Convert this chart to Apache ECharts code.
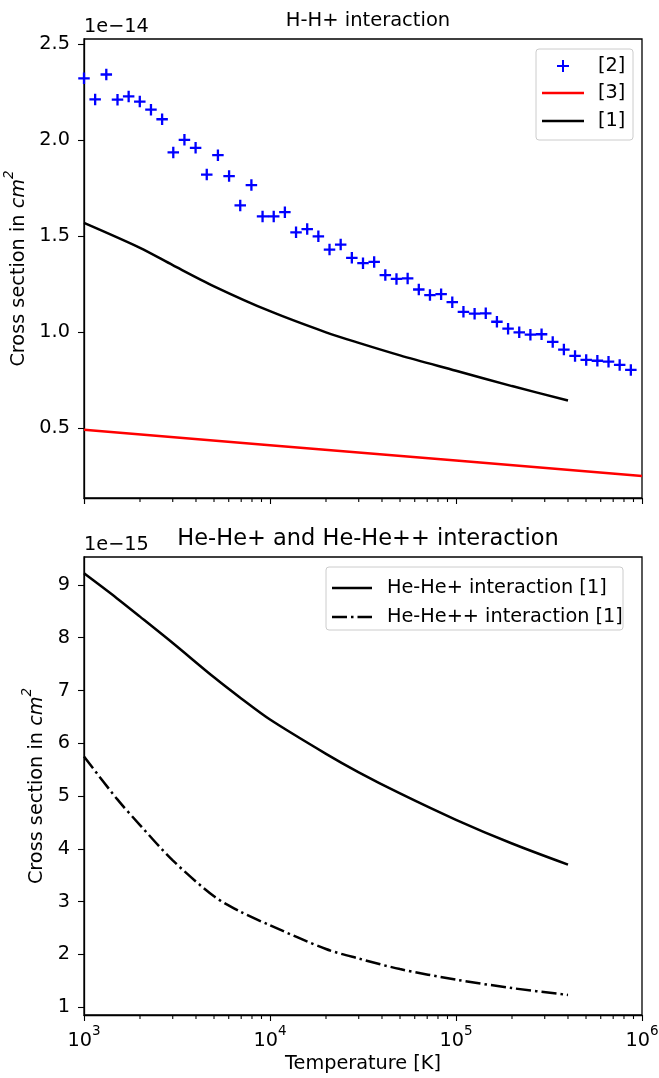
<!DOCTYPE html>
<html>
<head>
<meta charset="utf-8">
<title>Cross sections</title>
<script src="https://cdn.jsdelivr.net/npm/echarts@6/dist/echarts.min.js"></script>
<style>
  html, body { margin: 0; padding: 0; background: #fff; }
  #chart { width: 659px; height: 1078px; }
</style>
</head>
<body>
<div id="chart"></div>
<script>
// ---- H-H+ interaction (values in units of 1e-14 cm^2) ----
const tempRef2 = [1000, 1148, 1318, 1514, 1738, 1995, 2291, 2630, 3020, 3467,
  3981, 4571, 5248, 6026, 6918, 7943, 9120, 10471, 12023, 13804,
  15849, 18197, 20893, 23988, 27542, 31623, 36308, 41687, 47863, 54954,
  63096, 72444, 83176, 95499, 109648, 125893, 144544, 165959, 190546, 218776,
  251189, 288403, 331131, 380189, 436516, 501187, 575440, 660693, 758578, 870964];
const sigmaRef2 = [2.323, 2.213, 2.343, 2.212, 2.229, 2.202, 2.160, 2.110, 1.937, 2.003,
  1.961, 1.822, 1.923, 1.814, 1.661, 1.767, 1.604, 1.604, 1.626, 1.521,
  1.538, 1.500, 1.431, 1.457, 1.388, 1.360, 1.367, 1.298, 1.278, 1.281,
  1.223, 1.194, 1.199, 1.157, 1.107, 1.097, 1.099, 1.055, 1.019, 1.000,
  0.988, 0.990, 0.950, 0.910, 0.877, 0.856, 0.852, 0.847, 0.830, 0.804];

const tempRef3 = [1000, 10000, 100000, 1000000];
const sigmaRef3 = [0.492, 0.412, 0.332, 0.252];

const tempRef1 = [1000, 2000, 3000, 5000, 10000, 20000, 30000, 50000, 100000, 200000, 400000];
const sigmaRef1 = [1.57, 1.44, 1.35, 1.24, 1.11, 1.00, 0.945, 0.88, 0.80, 0.72, 0.645];

// ---- He-He+ and He-He++ interaction (values in units of 1e-15 cm^2) ----
const tempHe = [1000, 1500, 2000, 3000, 5000, 7000, 10000, 20000, 30000, 50000, 100000, 200000, 400000];
const sigmaHeP = [9.22, 8.75, 8.40, 7.90, 7.25, 6.85, 6.45, 5.80, 5.45, 5.05, 4.55, 4.10, 3.70];
const sigmaHePP = [5.75, 4.95, 4.45, 3.78, 3.10, 2.80, 2.55, 2.10, 1.92, 1.72, 1.52, 1.36, 1.23];

// ---- axis ranges and ticks ----
const rangeX = [1000, 1000000];
const rangeTopY = [0.137, 2.528];
const rangeBottomY = [0.85, 9.53];
const minorTicksX = [2000, 3000, 4000, 5000, 6000, 7000, 8000, 9000,
  20000, 30000, 40000, 50000, 60000, 70000, 80000, 90000,
  200000, 300000, 400000, 500000, 600000, 700000, 800000, 900000];
const ticksTopY = [0.5, 1.0, 1.5, 2.0, 2.5];
const ticksBottomY = [1, 2, 3, 4, 5, 6, 7, 8, 9];

const zip = (xs, ys) => xs.map((x, i) => [x, ys[i]]);

const FONT = 'DejaVu Sans';
const FS = 19.3;      // tick labels, axis names, legend entries
const SUP = 13.5;     // exponents
const LW = 2.5;       // curve width
const DASHDOT = [15, 4, 2.5, 4];
const plusPath = 'path://M4,0 H6 V4 H10 V6 H6 V10 H4 V6 H0 V4 H4 Z';

const G0 = { left: 84, top: 39, width: 558, height: 459 };
const G1 = { left: 84, top: 557, width: 558, height: 458 };

function xAxisMain(gridIndex, withLabels) {
  return {
    type: 'log', logBase: 10, gridIndex, min: rangeX[0], max: rangeX[1], position: 'bottom',
    axisLine: { show: true, lineStyle: { color: '#000', width: 1.3 } },
    axisTick: { show: true, length: 6, lineStyle: { color: '#000', width: 1.1 } },
    splitLine: { show: false },
    axisLabel: withLabels ? {
      show: true, margin: 9,
      formatter: v => '{b|10}{s|' + Math.round(Math.log10(v)) + '}',
      rich: {
        b: { fontFamily: FONT, fontSize: FS, color: '#000', lineHeight: 26, verticalAlign: 'bottom' },
        s: { fontFamily: FONT, fontSize: SUP, color: '#000', lineHeight: 26, verticalAlign: 'top' }
      }
    } : { show: false },
    name: withLabels ? 'Temperature [K]' : '',
    nameLocation: 'middle', nameGap: 39,
    nameTextStyle: { fontFamily: FONT, fontSize: FS, color: '#000' }
  };
}
function yAxis(gridIndex, range, ticks, digits, gap) {
  return {
    type: 'value', gridIndex, min: range[0], max: range[1],
    axisLine: { show: true, lineStyle: { color: '#000', width: 1.3 } },
    axisTick: { show: true, length: 6, customValues: ticks, lineStyle: { color: '#000', width: 1.1 } },
    axisLabel: {
      show: true, margin: 14, customValues: ticks,
      formatter: v => v.toFixed(digits),
      fontFamily: FONT, fontSize: FS, color: '#000'
    },
    splitLine: { show: false },
    name: '{n|Cross section in }{i|cm}{s|2}',
    nameLocation: 'middle', nameRotate: 90, nameGap: gap,
    nameTextStyle: {
      rich: {
        n: { fontFamily: FONT, fontSize: FS, color: '#000', lineHeight: 26, verticalAlign: 'bottom' },
        i: { fontFamily: FONT, fontStyle: 'italic', fontSize: FS, color: '#000', lineHeight: 26, verticalAlign: 'bottom' },
        s: { fontFamily: FONT, fontStyle: 'italic', fontSize: SUP, color: '#000', lineHeight: 26, verticalAlign: 'top' }
      }
    }
  };
}

const chart = echarts.init(document.getElementById('chart'), null, { renderer: 'canvas' });

const legendBox = { type: 'rect', style: { fill: 'rgba(255,255,255,0.8)', stroke: '#cccccc', lineWidth: 1 } };
const legendText = (x, y, text) => ({
  type: 'text', x, y,
  style: { text, fontFamily: FONT, fontSize: FS, fill: '#000', verticalAlign: 'middle', align: 'left' }
});
const legendLine = (x1, x2, y, color, dash, w) => ({
  type: 'line', shape: { x1, y1: y, x2, y2: y },
  style: { stroke: color, lineWidth: w || LW, lineDash: dash || null }
});
const legendVLine = (x, y1, y2, color) => ({
  type: 'line', shape: { x1: x, y1, x2: x, y2 },
  style: { stroke: color, lineWidth: 2 }
});
const gridStyle = { show: true, borderColor: '#000', borderWidth: 1.3, backgroundColor: 'transparent',
  containLabel: false, outerBoundsMode: 'none' };

const baseGraphic = [
  // scale factors above each panel
  { type: 'text', x: 84, y: 27, style: { text: '1e\u221214', fontFamily: FONT, fontSize: FS, fill: '#000', verticalAlign: 'middle' } },
  { type: 'text', x: 84, y: 545, style: { text: '1e\u221215', fontFamily: FONT, fontSize: FS, fill: '#000', verticalAlign: 'middle' } },
  // legend of the upper panel
  Object.assign({}, legendBox, { shape: { x: 536, y: 49, width: 97, height: 91, r: 3 } }),
  legendLine(557, 569, 66, '#0000ff', null, 2),
  legendVLine(563, 60, 72, '#0000ff'),
  legendText(598, 66, '[2]'),
  legendLine(542, 584, 93, '#ff0000'),
  legendText(598, 93, '[3]'),
  legendLine(542, 584, 121, '#000'),
  legendText(598, 121, '[1]'),
  // legend of the lower panel
  Object.assign({}, legendBox, { shape: { x: 326, y: 567, width: 297, height: 63, r: 3 } }),
  legendLine(332, 372, 588, '#000'),
  legendText(387, 588, 'He-He+ interaction [1]'),
  legendLine(332, 372, 617, '#000', DASHDOT),
  legendText(387, 617, 'He-He++ interaction [1]')
];

chart.setOption({
  animation: false,
  backgroundColor: '#fff',
  title: [
    { text: 'H-H+ interaction', left: 363, top: 6, textAlign: 'center',
      textStyle: { fontFamily: FONT, fontSize: 19.5, fontWeight: 'normal', color: '#000' } },
    { text: 'He-He+ and He-He++ interaction', left: 363, top: 523, textAlign: 'center',
      textStyle: { fontFamily: FONT, fontSize: 22.5, fontWeight: 'normal', color: '#000' } }
  ],
  grid: [
    Object.assign({}, gridStyle, G0),
    Object.assign({}, gridStyle, G1)
  ],
  xAxis: [xAxisMain(0, false), xAxisMain(1, true)],
  yAxis: [
    yAxis(0, rangeTopY, ticksTopY, 1, 52),
    yAxis(1, rangeBottomY, ticksBottomY, 0, 33)
  ],
  series: [
    { name: '[2]', type: 'scatter', xAxisIndex: 0, yAxisIndex: 0, data: zip(tempRef2, sigmaRef2),
      symbol: plusPath, symbolSize: 11.5, itemStyle: { color: '#0000ff', opacity: 1 }, clip: true },
    { name: '[3]', type: 'line', xAxisIndex: 0, yAxisIndex: 0, data: zip(tempRef3, sigmaRef3),
      symbol: 'none', lineStyle: { color: '#ff0000', width: LW }, clip: true },
    { name: '[1]', type: 'line', xAxisIndex: 0, yAxisIndex: 0, data: zip(tempRef1, sigmaRef1),
      symbol: 'none', smooth: 0.3, lineStyle: { color: '#000', width: LW } },
    { name: 'He-He+ interaction [1]', type: 'line', xAxisIndex: 1, yAxisIndex: 1, data: zip(tempHe, sigmaHeP),
      symbol: 'none', smooth: 0.3, lineStyle: { color: '#000', width: LW } },
    { name: 'He-He++ interaction [1]', type: 'line', xAxisIndex: 1, yAxisIndex: 1, data: zip(tempHe, sigmaHePP),
      symbol: 'none', smooth: 0.3, lineStyle: { color: '#000', width: LW, type: DASHDOT } }
  ],
  graphic: baseGraphic
});

// minor log ticks under each panel, positioned through the x axis scale
try {
  const minorMarks = [];
  [[0, rangeTopY[0]], [1, rangeBottomY[0]]].forEach(([idx, yMin]) => {
    minorTicksX.forEach(v => {
      const p = chart.convertToPixel({ xAxisIndex: idx, yAxisIndex: idx }, [v, yMin]);
      if (p && isFinite(p[0]) && isFinite(p[1])) {
        minorMarks.push({
          type: 'line', z: 100,
          shape: { x1: p[0], y1: p[1], x2: p[0], y2: p[1] + 4 },
          style: { stroke: '#000', lineWidth: 1.1 }
        });
      }
    });
  });
  chart.setOption({ graphic: baseGraphic.concat(minorMarks) });
} catch (e) {
  console.warn(e);
}
</script>
</body>
</html>
